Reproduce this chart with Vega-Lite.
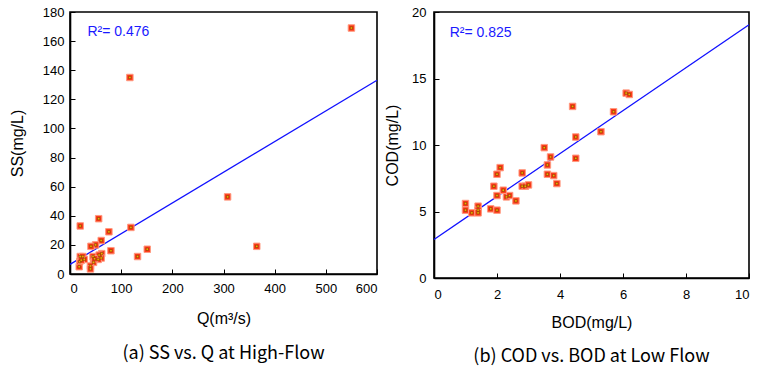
{
  "$schema": "https://vega.github.io/schema/vega-lite/v6.json",
  "padding": {"left": 8, "top": 5, "right": 5, "bottom": 0},
  "background": "white",
  "spacing": 2,
  "datasets": {
    "ss": [
      {"x": 550, "y": 169}, {"x": 117, "y": 135}, {"x": 308, "y": 53}, {"x": 365, "y": 19},
      {"x": 119, "y": 32}, {"x": 151, "y": 17}, {"x": 132, "y": 12}, {"x": 80, "y": 16},
      {"x": 76, "y": 29}, {"x": 56, "y": 38}, {"x": 20, "y": 33}, {"x": 61, "y": 23},
      {"x": 50, "y": 20}, {"x": 41, "y": 19}, {"x": 62, "y": 14}, {"x": 61, "y": 11},
      {"x": 55, "y": 10}, {"x": 45, "y": 12}, {"x": 46, "y": 8}, {"x": 40, "y": 5.5},
      {"x": 40, "y": 3.5}, {"x": 18, "y": 5}, {"x": 19, "y": 8.5}, {"x": 20, "y": 12},
      {"x": 25, "y": 12}, {"x": 28, "y": 10}, {"x": 22, "y": 9.5}, {"x": 57, "y": 13},
      {"x": 48, "y": 10.5}
    ],
    "ssfit": [{"x": 0, "y": 6.6}, {"x": 600, "y": 133.1}],
    "ssr2": [{"x": 34, "y": 166, "t": "R²= 0.476"}],
    "cod": [
      {"x": 6.1, "y": 13.9}, {"x": 6.2, "y": 13.8}, {"x": 4.4, "y": 12.9}, {"x": 5.7, "y": 12.5},
      {"x": 5.3, "y": 11.0}, {"x": 4.5, "y": 10.6}, {"x": 4.5, "y": 9.0}, {"x": 3.5, "y": 9.8},
      {"x": 3.7, "y": 9.1}, {"x": 3.6, "y": 8.5}, {"x": 3.6, "y": 7.8}, {"x": 3.8, "y": 7.7},
      {"x": 3.9, "y": 7.1}, {"x": 2.8, "y": 7.9}, {"x": 2.8, "y": 6.9}, {"x": 2.9, "y": 6.9},
      {"x": 3.0, "y": 7.0}, {"x": 2.1, "y": 8.3}, {"x": 2.0, "y": 7.8}, {"x": 1.9, "y": 6.9},
      {"x": 2.2, "y": 6.6}, {"x": 2.0, "y": 6.2}, {"x": 2.3, "y": 6.1}, {"x": 2.4, "y": 6.2},
      {"x": 2.6, "y": 5.8}, {"x": 1.0, "y": 5.6}, {"x": 1.0, "y": 5.1}, {"x": 1.2, "y": 4.9},
      {"x": 1.4, "y": 5.4}, {"x": 1.4, "y": 5.1}, {"x": 1.4, "y": 4.9}, {"x": 1.8, "y": 5.2},
      {"x": 2.0, "y": 5.1}
    ],
    "codfit": [{"x": 0, "y": 2.9}, {"x": 10, "y": 19.04}],
    "codr2": [{"x": 0.5, "y": 18.4, "t": "R²= 0.825"}]
  },
  "hconcat": [
    {
      "width": 307,
      "height": 262,
      "title": {"text": "(a) SS vs. Q at High-Flow", "orient": "bottom", "offset": 19},
      "encoding": {
        "x": {"field": "x", "type": "quantitative", "title": "Q(m³/s)",
              "scale": {"domain": [0, 600], "nice": false, "zero": false},
              "axis": {"values": [0, 100, 200, 300, 400, 500, 600], "labelPadding": 13, "titlePadding": 15}},
        "y": {"field": "y", "type": "quantitative", "title": "SS(mg/L)",
              "scale": {"domain": [0, 180], "nice": false, "zero": false},
              "axis": {"values": [0, 20, 40, 60, 80, 100, 120, 140, 160, 180], "labelPadding": 11, "titlePadding": 17}}
      },
      "layer": [
        {"data": {"name": "ssfit"}, "mark": {"type": "line", "color": "#1010ff", "strokeWidth": 1.3}},
        {"data": {"name": "ss"}, "mark": {"type": "square", "size": 42, "filled": true, "fill": "#ff3c1c", "stroke": "#ff9a80", "strokeWidth": 1, "opacity": 1}},
        {"data": {"name": "ss"}, "mark": {"type": "square", "size": 6, "filled": true, "fill": "#f0b000", "stroke": "#8a3000", "strokeWidth": 0.6, "opacity": 1}},
        {"data": {"name": "ssr2"}, "mark": {"type": "text", "align": "left", "baseline": "middle", "color": "#1a1aff", "fontSize": 14, "font": "Liberation Sans"},
         "encoding": {"text": {"field": "t"}}}
      ]
    },
    {
      "width": 315,
      "height": 266,
      "title": {"text": "(b) COD vs. BOD at Low Flow", "orient": "bottom", "offset": 18},
      "encoding": {
        "x": {"field": "x", "type": "quantitative", "title": "BOD(mg/L)",
              "scale": {"domain": [0, 10], "nice": false, "zero": false},
              "axis": {"values": [0, 2, 4, 6, 8, 10], "labelPadding": 15, "titlePadding": 13}},
        "y": {"field": "y", "type": "quantitative", "title": "COD(mg/L)",
              "scale": {"domain": [0, 20], "nice": false, "zero": false},
              "axis": {"values": [0, 5, 10, 15, 20], "labelPadding": 13, "titlePadding": 11}}
      },
      "layer": [
        {"data": {"name": "codfit"}, "mark": {"type": "line", "color": "#1010ff", "strokeWidth": 1.3}},
        {"data": {"name": "cod"}, "mark": {"type": "square", "size": 42, "filled": true, "fill": "#ff3c1c", "stroke": "#ff9a80", "strokeWidth": 1, "opacity": 1}},
        {"data": {"name": "cod"}, "mark": {"type": "square", "size": 6, "filled": true, "fill": "#f0b000", "stroke": "#8a3000", "strokeWidth": 0.6, "opacity": 1}},
        {"data": {"name": "codr2"}, "mark": {"type": "text", "align": "left", "baseline": "middle", "color": "#1a1aff", "fontSize": 14, "font": "Liberation Sans"},
         "encoding": {"text": {"field": "t"}}}
      ]
    }
  ],
  "config": {
    "view": {"stroke": "black", "strokeWidth": 1.6},
    "axis": {
      "grid": false,
      "domainColor": "black", "domainWidth": 1.6,
      "tickColor": "black", "tickSize": -5, "tickWidth": 1,
      "labelFont": "Liberation Sans", "labelFontSize": 13, "labelColor": "black",
      "titleFont": "Liberation Sans", "titleFontSize": 16, "titleFontWeight": "normal", "titleColor": "black"
    },
    "title": {"font": "Noto Sans CJK KR", "fontSize": 18, "fontWeight": "normal", "color": "black"}
  }
}
